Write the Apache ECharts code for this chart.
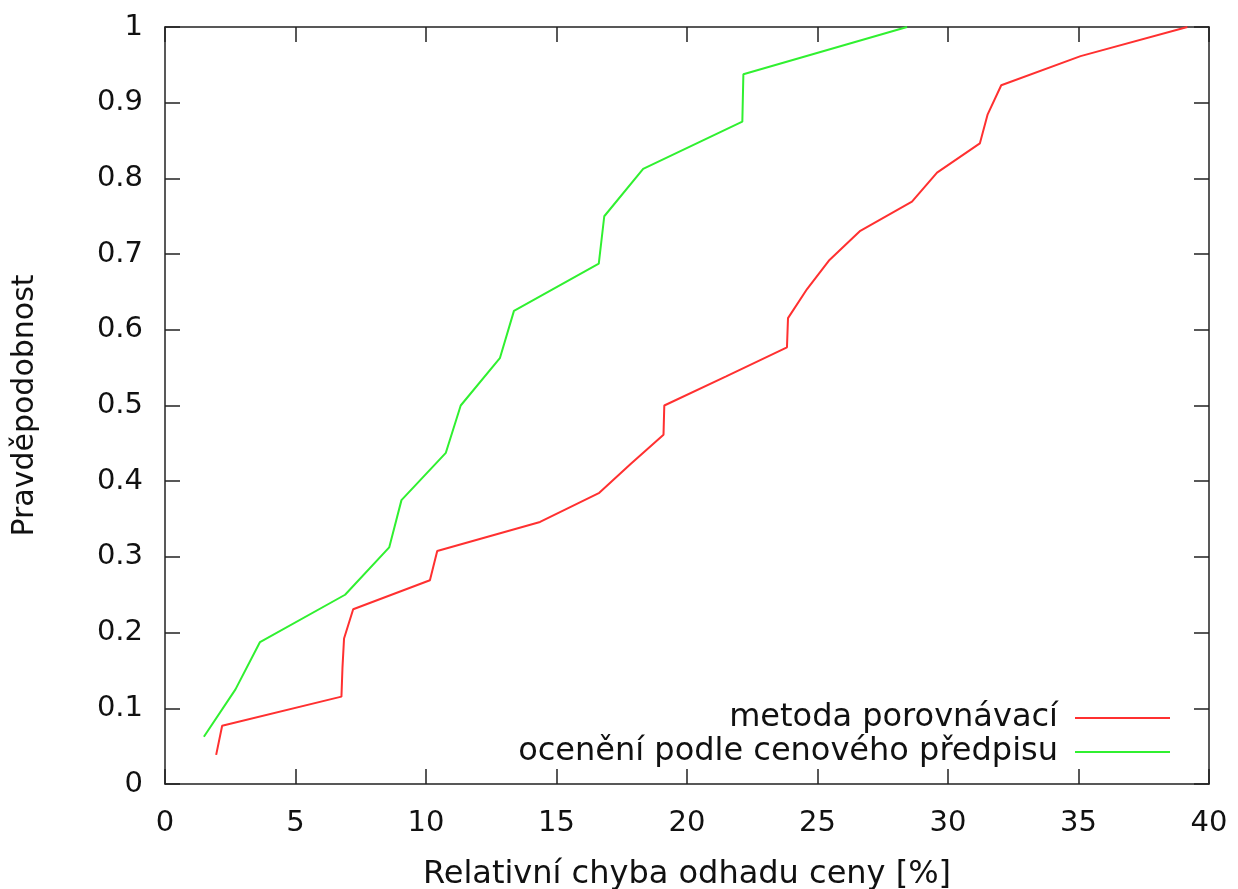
<!DOCTYPE html>
<html>
<head>
<meta charset="utf-8">
<script src="https://cdn.jsdelivr.net/npm/echarts@6/dist/echarts.min.js"></script>
<style>
html,body{margin:0;padding:0;background:#fff;}
#chart{width:1238px;height:889px;}
</style>
</head>
<body>
<div id="chart"></div>
<script>
// --- data ---
const seriesNames = ['metoda porovnávací', 'ocenění podle cenového předpisu'];

const redX = [1.96, 2.19, 6.76, 6.80, 6.86, 7.21, 10.15, 10.43, 14.37, 16.64, 17.85, 19.10, 19.13,
              21.5, 23.83, 23.87, 24.6, 25.46, 26.64, 28.62, 29.58, 31.22, 31.52, 32.04, 35.08, 39.17];
const redY = [0.0385, 0.0769, 0.1154, 0.1538, 0.1923, 0.2308, 0.2692, 0.3077, 0.3462, 0.3846, 0.4231,
              0.4615, 0.5, 0.5385, 0.5769, 0.6154, 0.6538, 0.6923, 0.7308, 0.7692, 0.8077, 0.8462,
              0.8846, 0.9231, 0.9615, 1.0];

const greenX = [1.49, 2.70, 3.64, 6.90, 8.59, 9.06, 10.76, 11.33, 12.83, 13.37, 16.62, 16.83,
                18.32, 22.12, 22.16, 28.43];
const greenY = [0.0625, 0.125, 0.1875, 0.25, 0.3125, 0.375, 0.4375, 0.5, 0.5625, 0.625, 0.6875,
                0.75, 0.8125, 0.875, 0.9375, 1.0];

const xTicks = [0, 5, 10, 15, 20, 25, 30, 35, 40];
const yTicks = [0, 0.1, 0.2, 0.3, 0.4, 0.5, 0.6, 0.7, 0.8, 0.9, 1];

const xTitle = 'Relativní chyba odhadu ceny [%]';
const yTitle = 'Pravděpodobnost';

// --- chart ---
const FONT = 'DejaVu Sans';
const AX = '#222';
const TXT = '#111';
const pairs = (xs, ys) => xs.map((x, i) => [x, ys[i]]);

const axisLine = { show: true, onZero: false, lineStyle: { color: AX, width: 1.5 } };
const tickIn = { show: true, inside: true, length: 15, lineStyle: { color: AX, width: 1.5 } };

const chart = echarts.init(document.getElementById('chart'), null, { renderer: 'canvas' });
chart.setOption({
  animation: false,
  backgroundColor: '#fff',
  textStyle: { fontFamily: FONT },
  grid: { left: 165, right: 29, top: 27, bottom: 105, containLabel: false, outerBoundsMode: 'none' },
  legend: {
    orient: 'vertical',
    right: 63,
    top: 697,
    align: 'right',
    itemWidth: 95,
    itemHeight: 2,
    itemGap: 2,
    icon: 'rect',
    textStyle: { fontFamily: FONT, fontSize: 32, color: TXT, padding: [0, 12, 0, 0] },
    data: seriesNames
  },
  xAxis: [{
    type: 'value', position: 'bottom',
    min: xTicks[0], max: xTicks[xTicks.length - 1], interval: xTicks[1] - xTicks[0],
    axisLine: axisLine, axisTick: tickIn, splitLine: { show: false },
    axisLabel: { fontFamily: FONT, fontSize: 29, color: TXT, margin: 25 },
    name: xTitle, nameLocation: 'middle', nameGap: 75,
    nameTextStyle: { fontFamily: FONT, fontSize: 32, color: TXT }
  }, {
    type: 'value', position: 'top',
    min: xTicks[0], max: xTicks[xTicks.length - 1], interval: xTicks[1] - xTicks[0],
    axisLine: axisLine, axisTick: tickIn, splitLine: { show: false },
    axisLabel: { show: false }
  }],
  yAxis: [{
    type: 'value', position: 'left',
    min: yTicks[0], max: yTicks[yTicks.length - 1], interval: 0.1,
    axisLine: axisLine, axisTick: tickIn, splitLine: { show: false },
    axisLabel: { fontFamily: FONT, fontSize: 29, color: TXT, margin: 22,
                 formatter: v => String(Math.round(v * 10) / 10) },
    name: yTitle, nameLocation: 'middle', nameGap: 125, nameRotate: 90,
    nameTextStyle: { fontFamily: FONT, fontSize: 30, color: TXT }
  }, {
    type: 'value', position: 'right',
    min: yTicks[0], max: yTicks[yTicks.length - 1], interval: 0.1,
    axisLine: axisLine, axisTick: tickIn, splitLine: { show: false },
    axisLabel: { show: false }
  }],
  series: [{
    name: seriesNames[0], type: 'line', xAxisIndex: 0, yAxisIndex: 0,
    data: pairs(redX, redY), showSymbol: false, symbol: 'none',
    lineStyle: { color: '#ff3030', width: 2 }, itemStyle: { color: '#ff3030' }
  }, {
    name: seriesNames[1], type: 'line', xAxisIndex: 0, yAxisIndex: 0,
    data: pairs(greenX, greenY), showSymbol: false, symbol: 'none',
    lineStyle: { color: '#30f030', width: 2 }, itemStyle: { color: '#30f030' }
  }]
});
</script>
</body>
</html>
